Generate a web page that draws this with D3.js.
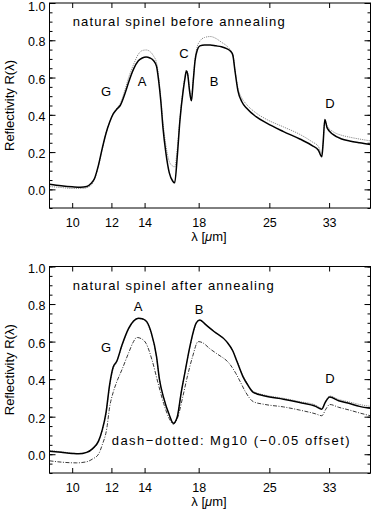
<!DOCTYPE html>
<html>
<head>
<meta charset="utf-8">
<script src="https://cdn.jsdelivr.net/npm/d3@7"></script>
<style>
  body { margin: 0; background: #fff; }
  svg { display: block; font-family: 'Liberation Sans', Arial, sans-serif; }
  .tick text { font-size: 12.5px; fill: #000; }
</style>
</head>
<body>
<div id="chart"></div>
<script>
// wavelength ticks (µm), reflectivity ticks
const xTicks = [10, 12, 14, 18, 25, 33];
const yMajor = [0.0, 0.2, 0.4, 0.6, 0.8, 1.0];
const yMinor = d3.range(-0.1, 1.0001, 0.05).map(v => +v.toFixed(2));

// panel 1: natural spinel before annealing  [λ, R]
const beforeSolid = [
  [9.0, 0.028], [9.5, 0.02], [10.0, 0.014], [10.4, 0.011], [10.7, 0.015], [10.9, 0.03],
  [11.1, 0.06], [11.3, 0.13], [11.5, 0.22], [11.7, 0.30], [11.9, 0.36], [12.1, 0.405],
  [12.3, 0.43], [12.5, 0.45], [12.8, 0.52], [13.0, 0.575], [13.3, 0.645], [13.6, 0.69],
  [13.85, 0.705], [14.1, 0.71], [14.35, 0.705], [14.6, 0.69], [14.8, 0.66], [14.95, 0.58],
  [15.1, 0.47], [15.25, 0.33], [15.45, 0.2], [15.7, 0.09], [15.95, 0.045], [16.1, 0.035],
  [16.3, 0.18], [16.5, 0.37], [16.75, 0.53], [16.9, 0.60], [17.0, 0.635], [17.1, 0.62],
  [17.25, 0.53], [17.4, 0.475], [17.55, 0.58], [17.7, 0.69], [17.9, 0.75], [18.1, 0.77],
  [18.5, 0.775], [19.0, 0.775], [19.5, 0.77], [20.0, 0.765], [20.5, 0.755], [20.9, 0.74],
  [21.1, 0.72], [21.3, 0.64], [21.6, 0.53], [22.0, 0.47], [22.5, 0.435], [23.5, 0.39],
  [24.7, 0.355], [26.7, 0.31], [28.8, 0.27], [30.5, 0.235], [31.4, 0.21], [31.9, 0.175],
  [32.1, 0.25], [32.35, 0.375], [32.7, 0.33], [33.6, 0.295], [35.0, 0.27], [36.3, 0.26],
  [38.0, 0.25], [40.0, 0.24]
];
const beforeDotted = [
  [9.0, 0.015], [9.5, 0.01], [10.0, 0.005], [10.5, 0.005], [10.9, 0.02],
  [11.1, 0.055], [11.3, 0.125], [11.5, 0.215], [11.7, 0.30], [11.9, 0.36], [12.1, 0.405],
  [12.3, 0.435], [12.5, 0.46], [12.8, 0.54], [13.0, 0.6], [13.3, 0.67], [13.6, 0.725],
  [13.85, 0.745], [14.1, 0.748], [14.35, 0.74], [14.6, 0.715], [14.8, 0.68], [14.95, 0.6],
  [15.1, 0.49], [15.25, 0.36], [15.45, 0.24], [15.7, 0.15], [15.95, 0.125], [16.1, 0.12],
  [16.3, 0.22], [16.5, 0.38], [16.75, 0.54], [16.9, 0.61], [17.0, 0.64], [17.1, 0.625],
  [17.25, 0.54], [17.4, 0.48], [17.55, 0.59], [17.7, 0.7], [17.9, 0.77], [18.1, 0.795],
  [18.5, 0.815], [19.0, 0.82], [19.5, 0.81], [20.0, 0.79], [20.5, 0.77], [20.9, 0.745],
  [21.1, 0.725], [21.3, 0.645], [21.6, 0.545], [22.0, 0.49], [22.5, 0.455], [23.5, 0.41],
  [24.7, 0.375], [26.7, 0.335], [28.8, 0.295], [30.5, 0.255], [31.4, 0.23], [31.9, 0.19],
  [32.1, 0.26], [32.35, 0.37], [32.7, 0.34], [33.6, 0.31], [35.0, 0.29], [36.3, 0.28],
  [38.0, 0.27], [40.0, 0.26]
];

// panel 2: natural spinel after annealing
const afterSolid = [
  [9.0, 0.016], [9.5, 0.01], [10.0, 0.004], [10.3, 0.002], [10.7, 0.01], [11.0, 0.03],
  [11.3, 0.07], [11.5, 0.13], [11.7, 0.22], [11.9, 0.37], [12.1, 0.465], [12.3, 0.495],
  [12.6, 0.58], [13.0, 0.67], [13.3, 0.71], [13.6, 0.725], [13.9, 0.72], [14.15, 0.705],
  [14.45, 0.645], [14.8, 0.52], [15.0, 0.40], [15.3, 0.3], [15.7, 0.21], [16.0, 0.165],
  [16.3, 0.2], [16.6, 0.33], [16.9, 0.44], [17.3, 0.58], [17.8, 0.7], [18.1, 0.715],
  [18.6, 0.69], [19.3, 0.655], [20.5, 0.6], [21.1, 0.55], [21.5, 0.495], [22.1, 0.415],
  [22.6, 0.37], [23.2, 0.33], [24.5, 0.31], [26.7, 0.293], [28.8, 0.275], [31.0, 0.255],
  [31.9, 0.24], [32.4, 0.275], [33.1, 0.305], [34.5, 0.285], [36.3, 0.27], [38.0, 0.255],
  [40.0, 0.245]
];
const afterDotted = [
  [9.0, 0.02], [9.5, 0.013], [10.0, 0.006], [10.3, 0.004], [10.7, 0.012], [11.0, 0.03],
  [11.3, 0.065], [11.5, 0.125], [11.7, 0.21], [11.9, 0.36], [12.1, 0.455], [12.3, 0.49],
  [12.6, 0.575], [13.0, 0.665], [13.3, 0.705], [13.6, 0.722], [13.9, 0.718], [14.15, 0.7],
  [14.45, 0.64], [14.8, 0.515], [15.0, 0.40], [15.3, 0.3], [15.7, 0.21], [16.0, 0.165],
  [16.3, 0.2], [16.6, 0.33], [16.9, 0.44], [17.3, 0.575], [17.8, 0.695], [18.1, 0.712],
  [18.6, 0.69], [19.3, 0.655], [20.5, 0.6], [21.1, 0.55], [21.5, 0.5], [22.1, 0.42],
  [22.6, 0.375], [23.2, 0.335], [24.5, 0.315], [26.7, 0.298], [28.8, 0.28], [31.0, 0.262],
  [31.9, 0.245], [32.4, 0.28], [33.1, 0.31], [34.5, 0.292], [36.3, 0.278], [38.0, 0.265],
  [40.0, 0.255]
];
// Mg10, shifted by -0.05
const mg10Offset = [
  [9.0, -0.035], [9.5, -0.042], [10.2, -0.046], [10.7, -0.04], [11.0, -0.025], [11.3, 0.0],
  [11.5, 0.05], [11.75, 0.14], [11.9, 0.25], [12.1, 0.33], [12.3, 0.385], [12.6, 0.45],
  [13.0, 0.54], [13.3, 0.6], [13.5, 0.622], [13.8, 0.615], [14.1, 0.59], [14.5, 0.5],
  [14.9, 0.38], [15.3, 0.27], [15.7, 0.19], [16.0, 0.16], [16.3, 0.19], [16.7, 0.3],
  [17.1, 0.42], [17.5, 0.52], [17.96, 0.6], [18.3, 0.595], [19.0, 0.56], [19.6, 0.535],
  [20.8, 0.48], [21.4, 0.43], [21.8, 0.39], [22.4, 0.33], [23.2, 0.28], [24.5, 0.265],
  [26.7, 0.252], [28.8, 0.235], [31.0, 0.215], [31.9, 0.205], [32.5, 0.24], [33.1, 0.265],
  [34.5, 0.25], [36.3, 0.235], [38.0, 0.22], [40.0, 0.205]
];

const W = 372, H = 513;
const svg = d3.select('#chart').append('svg').attr('width', W).attr('height', H);

const x = d3.scaleLog().domain([9, 40]).range([49.5, 370.5]);

const panels = [
  {
    top: 3, bottom: 208,
    title: 'natural spinel before annealing', titleLen: 212,
    series: [
      { data: beforeDotted, stroke: '#8a8a8a', width: 1, dash: '1.2,1' },
      { data: beforeSolid, stroke: '#000', width: 1.5, dash: null }
    ],
    labels: [['G', 106, 91], ['A', 142, 81], ['C', 184, 53], ['B', 214, 81], ['D', 330, 103]]
  },
  {
    top: 266.5, bottom: 473,
    title: 'natural spinel after annealing', titleLen: 201,
    series: [
      { data: mg10Offset, stroke: '#222', width: 0.9, dash: '4,1.5,1,1.5' },
      { data: afterDotted, stroke: '#8a8a8a', width: 1, dash: '1.2,1' },
      { data: afterSolid, stroke: '#000', width: 1.5, dash: null }
    ],
    labels: [['A', 138, 306], ['B', 199, 309], ['G', 106, 347], ['D', 330, 378]],
    note: 'dash\u2212dotted: Mg10 (\u22120.05 offset)'
  }
];

panels.forEach((p, pi) => {
  const y = d3.scaleLinear().domain([-0.1, 1.0]).range([p.bottom, p.top]);
  const g = svg.append('g');

  const clipId = 'clip' + pi;
  svg.append('clipPath').attr('id', clipId).append('rect')
    .attr('x', x.range()[0]).attr('y', p.top)
    .attr('width', x.range()[1] - x.range()[0]).attr('height', p.bottom - p.top);

  const line = d3.line().x(d => x(d[0])).y(d => y(d[1])).curve(d3.curveMonotoneX);
  p.series.forEach(s => {
    g.append('path')
      .attr('clip-path', `url(#${clipId})`)
      .attr('d', line(s.data))
      .attr('fill', 'none')
      .attr('stroke', s.stroke)
      .attr('stroke-width', s.width)
      .attr('stroke-dasharray', s.dash);
  });

  // frame
  g.append('rect')
    .attr('x', x.range()[0]).attr('y', p.top)
    .attr('width', x.range()[1] - x.range()[0]).attr('height', p.bottom - p.top)
    .attr('fill', 'none').attr('stroke', '#000').attr('stroke-width', 1);

  // bottom axis with labels, ticks inward
  g.append('g').attr('transform', `translate(0,${p.bottom})`)
    .call(d3.axisBottom(x).tickValues(xTicks).tickFormat(d3.format('d')).tickSize(-5).tickPadding(10));
  g.append('g').attr('transform', `translate(0,${p.top})`)
    .call(d3.axisTop(x).tickValues(xTicks).tickFormat('').tickSize(-5));

  // left axis: minor then major
  g.append('g').attr('transform', `translate(${x.range()[0]},0)`)
    .call(d3.axisLeft(y).tickValues(yMinor).tickFormat('').tickSize(-3));
  const yl = g.append('g').attr('transform', `translate(${x.range()[0]},0)`)
    .call(d3.axisLeft(y).tickValues(yMajor).tickFormat(d3.format('.1f')).tickSize(-6).tickPadding(4));
  yl.selectAll('.tick text').attr('dy', d => (pi === 0 && d === 1.0) ? '0.62em' : '0.45em');
  g.append('g').attr('transform', `translate(${x.range()[1]},0)`)
    .call(d3.axisRight(y).tickValues(yMinor).tickFormat('').tickSize(-3));
  g.append('g').attr('transform', `translate(${x.range()[1]},0)`)
    .call(d3.axisRight(y).tickValues(yMajor).tickFormat('').tickSize(-6));

  g.selectAll('.domain').remove();
  g.selectAll('.tick line').attr('stroke', '#000');

  // axis titles
  g.append('text')
    .attr('transform', `translate(14,${(p.top + p.bottom) / 2}) rotate(-90)`)
    .attr('text-anchor', 'middle')
    .attr('font-size', 13)
    .text('Reflectivity R(\u03bb)');
  const xl = g.append('text')
    .attr('x', 209).attr('y', p.bottom + 33)
    .attr('text-anchor', 'middle')
    .attr('font-size', 13);
  xl.append('tspan').text('\u03bb [');
  xl.append('tspan').attr('font-style', 'italic').text('\u03bc');
  xl.append('tspan').text('m]');

  // annotations
  g.append('text')
    .attr('x', 72.7).attr('y', p.top + 23)
    .attr('font-size', 13)
    .attr('textLength', p.titleLen).attr('lengthAdjust', 'spacing')
    .text(p.title);

  p.labels.forEach(([t, lx, ly]) => {
    g.append('text')
      .attr('x', lx).attr('y', ly).attr('dy', '0.35em')
      .attr('text-anchor', 'middle').attr('font-size', 13)
      .text(t);
  });

  if (p.note) {
    g.append('text')
      .attr('x', 111.7).attr('y', 445)
      .attr('font-size', 13)
      .attr('textLength', 238).attr('lengthAdjust', 'spacing')
      .text(p.note);
  }
});
</script>
</body>
</html>
